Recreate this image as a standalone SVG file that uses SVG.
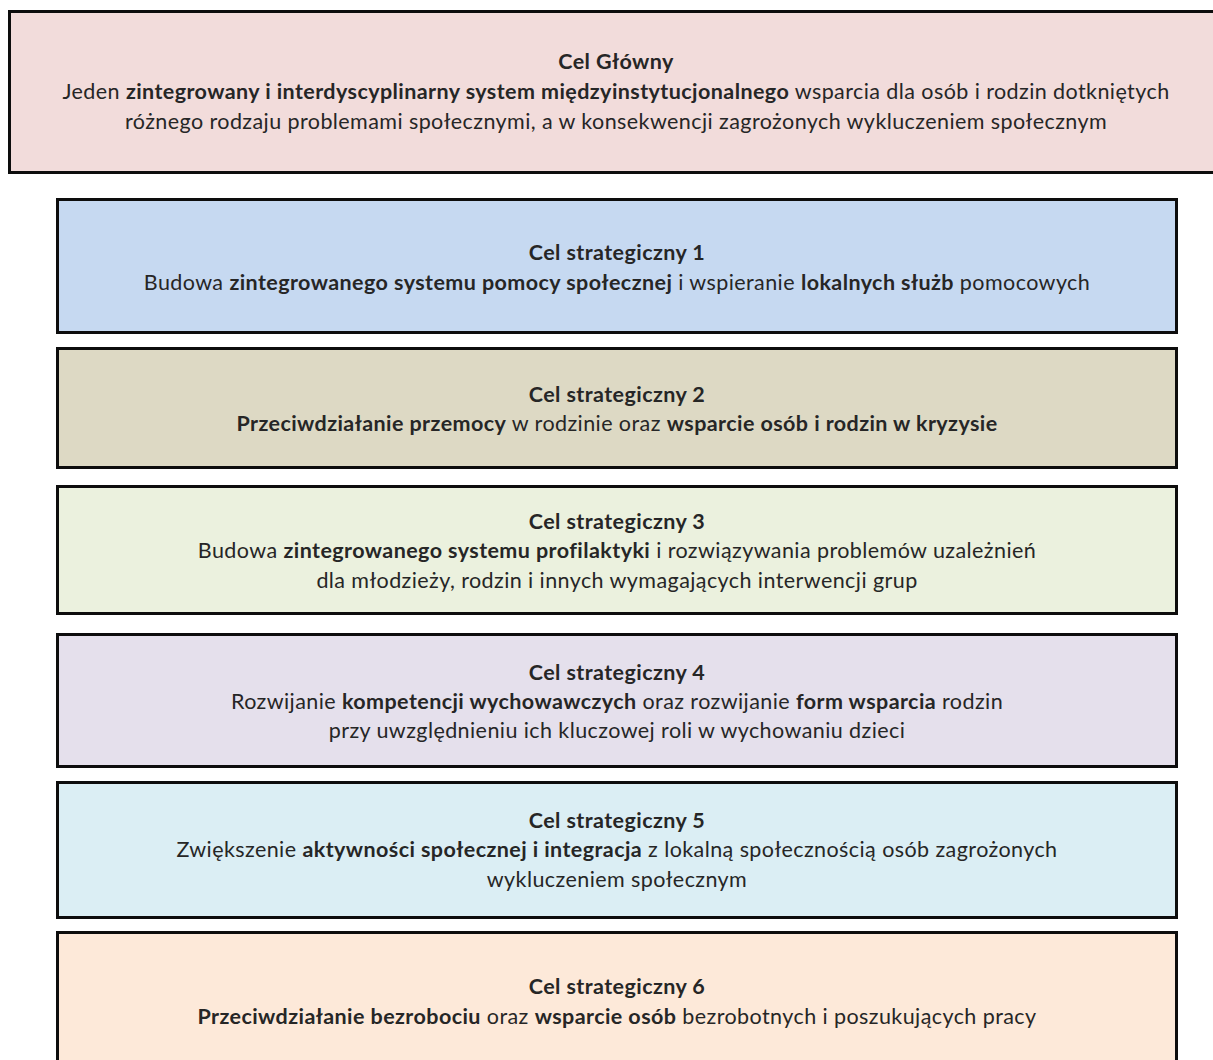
<svg xmlns="http://www.w3.org/2000/svg" width="1213" height="1060" viewBox="0 0 1213 1060">
<style>
.box{stroke:#0d0d0d;stroke-width:3}
text{font-family:Lato,"Noto Sans","Liberation Sans",sans-serif;font-size:21.5px;letter-spacing:0.42px;fill:#262626;text-anchor:middle}
.b{font-weight:bold}
</style>
<rect width="1213" height="1060" fill="#ffffff"/>
<g id="cel-glowny">
<rect class="box" x="9.5" y="11.5" width="1215" height="161" fill="#F2DCDB"/>
<text x="616" y="69" class="b">Cel Główny</text>
<text x="616" y="99">Jeden <tspan class="b">zintegrowany i interdyscyplinarny system międzyinstytucjonalnego</tspan> wsparcia dla osób i rodzin dotkniętych</text>
<text x="616" y="129">różnego rodzaju problemami społecznymi, a w konsekwencji zagrożonych wykluczeniem społecznym</text>
</g>
<g id="cel1">
<rect class="box" x="57.5" y="199.5" width="1119" height="133" fill="#C6D9F1"/>
<text x="617" y="260" class="b">Cel strategiczny 1</text>
<text x="617" y="290">Budowa <tspan class="b">zintegrowanego systemu pomocy społecznej</tspan> i wspieranie <tspan class="b">lokalnych służb</tspan> pomocowych</text>
</g>
<g id="cel2">
<rect class="box" x="57.5" y="348.5" width="1119" height="119" fill="#DDD9C4"/>
<text x="617" y="402" class="b">Cel strategiczny 2</text>
<text x="617" y="431"><tspan class="b">Przeciwdziałanie przemocy</tspan> w rodzinie oraz <tspan class="b">wsparcie osób i rodzin w kryzysie</tspan></text>
</g>
<g id="cel3">
<rect class="box" x="57.5" y="486.5" width="1119" height="127" fill="#EBF1DE"/>
<text x="617" y="529" class="b">Cel strategiczny 3</text>
<text x="617" y="558">Budowa <tspan class="b">zintegrowanego systemu profilaktyki</tspan> i rozwiązywania problemów uzależnień</text>
<text x="617" y="588">dla młodzieży, rodzin i innych wymagających interwencji grup</text>
</g>
<g id="cel4">
<rect class="box" x="57.5" y="634.5" width="1119" height="132" fill="#E5E0EC"/>
<text x="617" y="680" class="b">Cel strategiczny 4</text>
<text x="617" y="709">Rozwijanie <tspan class="b">kompetencji wychowawczych</tspan> oraz rozwijanie <tspan class="b">form wsparcia</tspan> rodzin</text>
<text x="617" y="738">przy uwzględnieniu ich kluczowej roli w wychowaniu dzieci</text>
</g>
<g id="cel5">
<rect class="box" x="57.5" y="782.5" width="1119" height="135" fill="#DBEEF4"/>
<text x="617" y="828" class="b">Cel strategiczny 5</text>
<text x="617" y="857">Zwiększenie <tspan class="b">aktywności społecznej i integracja</tspan> z lokalną społecznością osób zagrożonych</text>
<text x="617" y="887">wykluczeniem społecznym</text>
</g>
<g id="cel6">
<rect class="box" x="57.5" y="932.5" width="1119" height="140" fill="#FDE9D9"/>
<text x="617" y="994" class="b">Cel strategiczny 6</text>
<text x="617" y="1024"><tspan class="b">Przeciwdziałanie bezrobociu</tspan> oraz <tspan class="b">wsparcie osób</tspan> bezrobotnych i poszukujących pracy</text>
</g>
<g id="connectors"/>
</svg>
